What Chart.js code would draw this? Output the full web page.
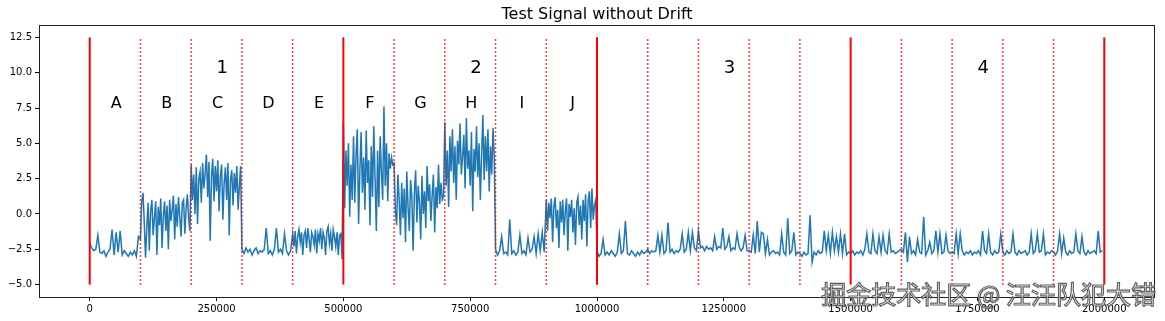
<!DOCTYPE html>
<html>
<head>
<meta charset="utf-8">
<script src="https://cdn.jsdelivr.net/npm/chart.js@4"></script>
<style>
  body { margin: 0; background: #fff; }
  canvas { display: block; }
</style>
</head>
<body>
<canvas id="signalChart" width="1165" height="321"></canvas>
<script>
// width of one labelled section (x units)
var segWidth = 100000;

// signal values, one array per section, samples evenly spread over the section
var segA = [-2.1, -2.4, -2.6, -2.5, -1.5, -2.7, -2.8, -2.6, -3.0, -2.7, -2.5, -1.1, -2.9, -1.3, -2.7, -1.2, -2.9, -2.6, -2.8, -3.0, -2.7, -2.9, -2.6, -3.0, -1.6];
var segB = [-1.8, 0.9, 1.5, -0.6, -3.1, -1.0, 0.8, -2.6, 0.2, 1.0, -1.5, -0.3, 0.9, -2.9, 0.5, -0.8, 1.1, -2.4, -0.2, 0.9, -1.2, 0.6, -2.5, 1.0, -0.5, 0.3, 1.3, -1.8, 0.7, -0.9, 1.2, -0.2, -1.6, 0.8, 1.0, -1.4, 0.4, 1.4, -0.3, -1.2];
var segC = [3.5, 1.0, 2.8, 0.0, 3.3, -0.7, 2.5, 3.0, 0.8, 3.6, 1.8, 2.9, 4.2, 1.2, 3.7, -1.9, 2.6, 3.9, 0.9, 3.4, 1.6, 3.8, 0.2, 2.7, 3.5, -0.4, 2.2, 3.3, 1.0, 3.6, -1.5, 2.4, 3.1, 0.6, 2.9, 1.5, 3.4, 0.3, 2.0, 3.4];
var segD = [-2.5, -2.8, -2.4, -2.7, -2.5, -2.9, -2.6, -2.4, -2.8, -2.6, -2.7, -2.5, -1.0, -2.8, -2.6, -2.9, -2.5, -1.0, -2.7, -2.5, -2.8, -1.4, -2.6, -2.9, -2.6];
var segE = [-1.4, -2.3, -1.2, -2.8, -1.6, -1.1, -2.0, -1.3, -2.9, -1.5, -1.2, -2.4, -1.0, -1.8, -2.7, -1.3, -1.6, -2.2, -1.1, -2.8, -1.4, -1.9, -1.0, -2.5, -1.3, -1.7, -2.9, -1.2, -0.9, -2.1, -1.4, -2.6, -1.1, -1.6, -2.3, -1.3, -2.9, -1.5, -1.4, -3.2];
var segF = [6.5, 0.4, 4.5, 2.0, 5.0, -0.2, 3.5, 1.0, 5.5, 0.8, 4.2, 6.0, -0.7, 3.0, 5.8, 1.5, 4.0, 0.3, 5.9, 2.2, 3.8, -0.8, 4.8, 1.2, 6.2, 2.5, -1.2, 4.5, 0.5, 5.5, 3.0, 1.0, 7.6, 2.0, 5.0, 0.9, 4.3, 3.2, 4.0, 3.5];
var segG = [3.6, 0.2, -0.8, 2.8, 1.0, -1.5, 2.2, -0.3, 1.8, -2.0, 3.0, 0.5, -1.2, 2.4, 1.2, -2.6, 1.5, 3.1, -0.6, 2.0, 0.8, -1.8, 2.7, 0.0, 1.6, -1.0, 3.4, 0.9, 2.1, -0.5, 1.3, 2.8, -1.3, 1.9, 0.4, 3.5, 0.7, 2.2, 1.0, 1.2];
var segH = [6.5, 2.0, 4.5, 0.5, 5.5, 3.0, 6.0, 2.2, 4.8, 1.0, 5.2, 3.5, 6.4, 2.8, 4.0, 5.6, 1.8, 6.8, 3.2, 4.5, 2.0, 5.8, 0.2, 4.6, 3.0, 6.2, 2.6, 5.0, 1.0, 4.2, 7.0, 2.4, 5.5, 3.0, 6.0, 1.6, 4.8, 2.8, 6.1, 4.0];
var segI = [-2.5, -2.9, -2.6, -1.6, -2.8, -2.7, -2.9, -0.4, -2.8, -2.6, -2.9, -2.7, -1.5, -2.8, -2.6, -2.9, -1.7, -2.7, -2.5, -1.6, -2.8, -1.4, -2.6, -1.3, -2.7];
var segJ = [1.0, -1.2, 0.8, -0.3, 1.1, -2.0, 0.5, 1.2, -1.0, 0.3, -2.4, 0.9, -0.6, 1.0, -1.5, 0.2, 1.1, -2.6, 0.7, -0.2, 1.0, -1.3, 0.4, -2.2, 0.8, 1.2, -0.8, 0.6, -1.8, 1.0, -0.5, 1.4, -2.3, 0.9, 1.6, -1.0, 1.8, -0.4, 0.6, 1.0];
var segK = [-2.6, -3.0, -2.8, -1.8, -2.9, -2.7, -2.9, -2.6, -2.8, -3.0, -2.7, -1.4, -2.8, -2.6, -0.5, -2.8, -2.9, -2.6, -2.8, -3.0, -2.7, -2.9, -2.6, -2.8, -2.7];
var segL = [-2.5, -2.8, -2.6, -2.7, -2.6, -1.5, -2.7, -1.5, -2.8, -2.6, -0.6, -2.7, -2.5, -2.8, -2.6, -2.7, -2.5, -1.4, -2.7, -2.5, -1.3, -2.6, -1.3, -2.4, -2.6];
var segM = [-1.2, -2.4, -2.3, -2.6, -2.3, -2.5, -2.4, -2.6, -1.6, -2.5, -2.3, -2.4, -1.0, -2.5, -2.3, -1.6, -2.6, -2.4, -2.5, -1.4, -2.3, -2.6, -2.4, -1.5, -2.6];
var segN = [-2.6, -2.7, -1.5, -2.8, -0.5, -2.7, -1.3, -1.4, -2.8, -1.8, -2.9, -2.7, -2.6, -2.8, -2.7, -2.9, -1.4, -2.7, -2.9, -0.3, -2.8, -2.6, -1.3, -2.9, -2.7];
var segO = [-2.8, -3.0, -2.7, -2.9, -2.8, -0.1, -3.4, -2.7, -2.9, -2.6, -2.8, -2.7, -1.2, -2.6, -1.5, -2.8, -1.3, -2.6, -1.6, -2.7, -1.4, -2.8, -1.4, -2.9, -2.7];
var segP = [-2.8, -2.6, -2.9, -2.7, -2.8, -2.6, -2.9, -2.5, -1.4, -2.7, -2.8, -1.4, -2.6, -2.8, -1.6, -2.7, -1.5, -2.6, -2.8, -1.4, -2.7, -2.6, -2.8, -2.7, -2.6];
var segQ = [-2.5, -2.7, -1.3, -3.4, -1.6, -2.8, -2.6, -2.9, -1.8, -2.7, -2.8, -0.2, -2.9, -2.6, -2.0, -2.8, -2.6, -1.2, -2.7, -1.4, -2.8, -2.7, -1.5, -2.6, -2.8];
var segR = [-2.7, -2.8, -1.4, -2.8, -1.4, -2.6, -2.9, -2.7, -2.8, -2.6, -2.9, -2.7, -2.8, -2.6, -2.9, -1.2, -2.6, -2.8, -1.4, -2.7, -2.9, -2.6, -2.8, -2.7, -1.4];
var segS = [-2.7, -2.9, -2.6, -2.8, -2.7, -1.4, -2.7, -2.9, -2.6, -2.8, -2.7, -2.6, -2.9, -2.7, -1.4, -2.8, -2.6, -1.4, -2.7, -2.6, -1.4, -2.9, -2.7, -2.8, -2.6];
var segT = [-2.7, -2.9, -2.6, -1.4, -2.8, -1.7, -2.7, -2.9, -2.6, -2.8, -2.7, -1.4, -2.6, -2.8, -1.6, -2.7, -2.9, -2.6, -2.8, -2.7, -2.6, -2.8, -1.2, -2.7, -2.6];

var segments = [segA, segB, segC, segD, segE, segF, segG, segH, segI, segJ,
                segK, segL, segM, segN, segO, segP, segQ, segR, segS, segT];

// boundaries, labels and ticks
var majorBounds = [0, 500000, 1000000, 1500000, 2000000];
var minorBounds = [100000, 200000, 300000, 400000, 600000, 700000, 800000, 900000,
                   1100000, 1200000, 1300000, 1400000, 1600000, 1700000, 1800000, 1900000];
var groupLabels = ['1', '2', '3', '4'];
var segLabels = ['A', 'B', 'C', 'D', 'E', 'F', 'G', 'H', 'I', 'J'];
var xTicks = [0, 250000, 500000, 750000, 1000000, 1250000, 1500000, 1750000, 2000000];
var yTicks = [-5, -2.5, 0, 2.5, 5, 7.5, 10, 12.5];
var lineBottom = -5, lineTop = 12.5;

var signalPoints = [];
segments.forEach(function (seg, k) {
    seg.forEach(function (v, i) {
        signalPoints.push({ x: k * segWidth + i * segWidth / seg.length, y: v });
    });
});

var datasets = [{
    label: 'signal',
    data: signalPoints,
    borderColor: '#1f77b4',
    borderWidth: 1.5,
    pointRadius: 0,
    fill: false,
    tension: 0,
    order: 2
}];
majorBounds.forEach(function (b) {
    datasets.push({
        data: [{ x: b, y: lineBottom }, { x: b, y: lineTop }],
        borderColor: '#ff0000', borderWidth: 2, pointRadius: 0, order: 1
    });
});
minorBounds.forEach(function (b) {
    datasets.push({
        data: [{ x: b, y: lineBottom }, { x: b, y: lineTop }],
        borderColor: '#ff0000', borderWidth: 1.5, borderDash: [1.5, 2.5], pointRadius: 0, order: 1
    });
});

var fontFam = '"DejaVu Sans", sans-serif';

// frame, title, annotations and watermark
var decor = {
    id: 'decor',
    beforeDraw: function (chart) {
        var c = chart.ctx;
        c.save();
        c.fillStyle = '#fff';
        c.fillRect(0, 0, chart.width, chart.height);
        c.restore();
    },
    afterDatasetsDraw: function (chart) {
        var c = chart.ctx, a = chart.chartArea;
        var xs = chart.scales.x, ys = chart.scales.y;
        c.save();
        c.fillStyle = '#000';
        c.textBaseline = 'alphabetic';
        c.font = '18px ' + fontFam;
        c.textAlign = 'left';
        groupLabels.forEach(function (t, k) {
            c.fillText(t, xs.getPixelForValue(250000 + k * 500000), ys.getPixelForValue(10));
        });
        c.font = '16px ' + fontFam;
        c.textAlign = 'center';
        segLabels.forEach(function (t, k) {
            c.fillText(t, xs.getPixelForValue(52000 + k * segWidth), ys.getPixelForValue(7.5));
        });
        // axes frame
        c.strokeStyle = '#222';
        c.lineWidth = 1;
        c.strokeRect(Math.round(a.left) + 0.5, Math.round(a.top) + 0.5,
                     Math.round(a.right - a.left) - 1, Math.round(a.bottom - a.top));
        // title
        c.font = '16px ' + fontFam;
        c.textAlign = 'center';
        c.fillText('Test Signal without Drift', (a.left + a.right) / 2, 19);
        c.restore();
    },
    afterDraw: function (chart) {
        var c = chart.ctx;
        c.save();
        c.font = '25px "Noto Sans CJK SC", sans-serif';
        c.textAlign = 'right';
        c.textBaseline = 'alphabetic';
        c.lineWidth = 1.2;
        c.strokeStyle = 'rgba(70,70,70,0.85)';
        c.fillStyle = 'rgba(250,250,250,0.85)';
        c.fillText('掘金技术社区 @ 汪汪队犯大错', 1156, 304);
        c.strokeText('掘金技术社区 @ 汪汪队犯大错', 1156, 304);
        c.restore();
    }
};

var ctx = document.getElementById('signalChart').getContext('2d');
var signalChart = new Chart(ctx, {
    type: 'line',
    data: { datasets: datasets },
    options: {
        responsive: false,
        animation: false,
        layout: { padding: { top: 25, right: 10, left: 0, bottom: 0 } },
        plugins: {
            legend: { display: false },
            title: { display: false },
            tooltip: { enabled: false }
        },
        scales: {
            x: {
                type: 'linear',
                min: -100000,
                max: 2100000,
                afterBuildTicks: function (s) { s.ticks = xTicks.map(function (v) { return { value: v }; }); },
                afterFit: function (s) { s.height = 24; },
                ticks: {
                    autoSkip: false, maxRotation: 0, padding: 2, color: '#000',
                    font: { family: fontFam, size: 10 },
                    callback: function (v) { return String(v); }
                },
                grid: { drawOnChartArea: false, drawTicks: true, tickLength: 4, color: '#000' },
                border: { display: false }
            },
            y: {
                type: 'linear',
                min: -5.875,
                max: 13.375,
                afterBuildTicks: function (s) { s.ticks = yTicks.map(function (v) { return { value: v }; }); },
                afterFit: function (s) { s.width = 39; },
                ticks: {
                    autoSkip: false, padding: 3, color: '#000',
                    font: { family: fontFam, size: 10 },
                    callback: function (v) { return v.toFixed(1).replace('-', '\u2212'); }
                },
                grid: { drawOnChartArea: false, drawTicks: true, tickLength: 4, color: '#000' },
                border: { display: false }
            }
        }
    },
    plugins: [decor]
});
</script>
</body>
</html>
